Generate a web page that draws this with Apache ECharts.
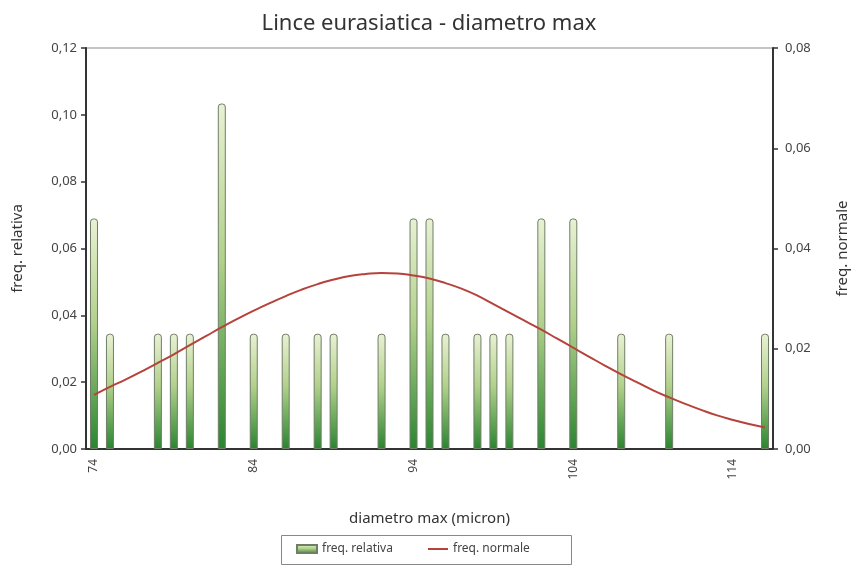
<!DOCTYPE html>
<html>
<head>
<meta charset="utf-8">
<script src="https://cdn.jsdelivr.net/npm/echarts@6/dist/echarts.min.js"></script>
<style>html,body{margin:0;padding:0;background:#fff}#c{width:858px;height:567px}</style>
</head>
<body>
<div id="c"></div>
<script>
// categories: diameter values (micron)
const categories = ['74','75','76','77','78','79','80','81','82','83','84','85','86','87','88','89','90','91','92','93','94','95','96','97','98','99','100','101','102','103','104','105','106','107','108','109','110','111','112','113','114','115','116'];
// relative frequency (left axis); null = no bar
const freqRelativa = [0.069,0.0345,null,null,0.0345,0.0345,0.0345,null,0.1034,null,0.0345,null,0.0345,null,0.0345,0.0345,null,null,0.0345,null,0.069,0.069,0.0345,null,0.0345,0.0345,0.0345,null,0.069,null,0.069,null,null,0.0345,null,null,0.0345,null,null,null,null,null,0.0345];
// normal frequency (right axis)
const freqNormale = [0.0108,0.0124,0.0139,0.0155,0.0172,0.0189,0.0207,0.0225,0.0243,0.0260,0.0276,0.0291,0.0305,0.0318,0.0329,0.0338,0.0345,0.0349,0.0351,0.0350,0.0346,0.0340,0.0331,0.0320,0.0306,0.0289,0.0272,0.0255,0.0238,0.0220,0.0202,0.0184,0.0166,0.0149,0.0133,0.0117,0.0103,0.0090,0.0078,0.0067,0.0058,0.0050,0.0043];

const FONT = 'Noto Sans';
const fmt = v => v.toFixed(2).replace('.', ',');
const chart = echarts.init(document.getElementById('c'), null, {renderer: 'canvas'});
chart.setOption({
  animation: false,
  backgroundColor: '#fff',
  textStyle: {fontFamily: FONT},
  title: {
    text: 'Lince eurasiatica - diametro max',
    left: 'center', top: 8,
    textStyle: {fontFamily: FONT, fontSize: 22, fontWeight: 'normal', color: '#333'}
  },
  grid: {left: 86, right: 82, top: 48, bottom: 118, show: true, borderColor: '#c4c4c4', borderWidth: 2, backgroundColor: 'transparent'},
  graphic: [{
    type: 'rect', left: 279, top: 533,
    shape: {width: 290, height: 29},
    style: {fill: 'none', stroke: '#888', lineWidth: 1}
  }],
  legend: [{
    left: 296, top: 543,
    itemWidth: 20, itemHeight: 8, padding: 0,
    textStyle: {fontFamily: FONT, fontSize: 12, color: '#444'},
    data: [{name: 'freq. relativa', icon: 'rect'}]
  }, {
    left: 428, top: 543,
    itemWidth: 20, itemHeight: 2, padding: 0,
    textStyle: {fontFamily: FONT, fontSize: 12, color: '#444'},
    data: [{name: 'freq. normale', icon: 'rect'}]
  }],
  xAxis: {
    type: 'category', data: categories, boundaryGap: true,
    name: 'diametro max (micron)', nameLocation: 'middle', nameGap: 62,
    nameTextStyle: {fontFamily: FONT, fontSize: 15, color: '#333'},
    axisLine: {lineStyle: {color: '#333', width: 2}},
    axisTick: {interval: i => i % 10 === 0, length: 5, lineStyle: {color: '#333', width: 1.5}},
    axisLabel: {interval: i => i % 10 === 0, rotate: 90, fontSize: 12, color: '#444', margin: 10, fontFamily: FONT},
    splitLine: {show: false}
  },
  yAxis: [{
    type: 'value', min: 0, max: 0.12, interval: 0.02, position: 'left',
    name: 'freq. relativa', nameLocation: 'middle', nameGap: 61, nameRotate: 90,
    nameTextStyle: {fontFamily: FONT, fontSize: 15, color: '#333'},
    axisLine: {show: true, lineStyle: {color: '#333', width: 2}},
    axisTick: {show: true, length: 5, lineStyle: {color: '#333', width: 1.5}},
    axisLabel: {formatter: fmt, fontSize: 13, color: '#444', margin: 9, fontFamily: FONT},
    splitLine: {show: false}
  }, {
    type: 'value', min: 0, max: 0.08, interval: 0.02, position: 'right',
    name: 'freq. normale', nameLocation: 'middle', nameGap: 62, nameRotate: 90,
    nameTextStyle: {fontFamily: FONT, fontSize: 15, color: '#333'},
    axisLine: {show: true, lineStyle: {color: '#333', width: 2}},
    axisTick: {show: true, length: 5, lineStyle: {color: '#333', width: 1.5}},
    axisLabel: {formatter: fmt, fontSize: 13, color: '#444', margin: 12, fontFamily: FONT},
    splitLine: {show: false}
  }],
  series: [{
    name: 'freq. relativa', type: 'bar', yAxisIndex: 0, data: freqRelativa,
    barWidth: 8,
    itemStyle: {
      color: new echarts.graphic.LinearGradient(0, 0, 0, 1, [
        {offset: 0, color: '#e9f1d4'},
        {offset: 0.45, color: '#b2d18c'},
        {offset: 1, color: '#2a8530'}
      ]),
      borderColor: '#6f7f66', borderWidth: 1, borderRadius: [3, 3, 0, 0]
    }
  }, {
    name: 'freq. normale', type: 'line', yAxisIndex: 1, data: freqNormale,
    smooth: true, symbol: 'none', showSymbol: false,
    lineStyle: {color: '#b5433b', width: 2},
    itemStyle: {color: '#b5433b'}
  }]
});
</script>
</body>
</html>
